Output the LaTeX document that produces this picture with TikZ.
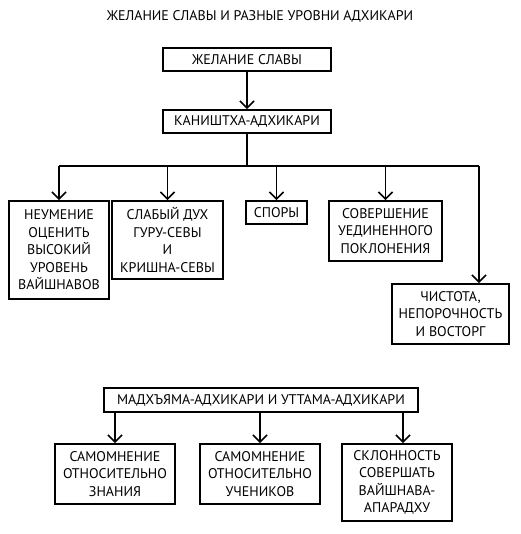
\documentclass[tikz,border=0pt]{standalone}
\usepackage{fontspec}
\setmainfont{PT Sans}
\usepackage{tikz}
\usetikzlibrary{arrows.meta}

\begin{document}
\begin{tikzpicture}[x=1pt,y=-1pt,
  box/.style={draw,line width=1.8pt,align=center,inner sep=2pt,
    font=\fontsize{14}{17.5}\selectfont},
  arr/.style={line width=1.6pt,-{Straight Barb[length=7pt,width=14pt,line width=1.6pt]}},
  link/.style={line width=1.8pt}]
\useasboundingbox (0,0) rectangle (520,534);

\node[font=\fontsize{14}{17.5}\selectfont] (title) at (260,16) {ЖЕЛАНИЕ СЛАВЫ И РАЗНЫЕ УРОВНИ АДХИКАРИ};

\node[box,minimum width=168,minimum height=23] (slava) at (247,59.5) {ЖЕЛАНИЕ СЛАВЫ};
\node[box,minimum width=168,minimum height=23] (kanishtha) at (247,121.5) {КАНИШТХА-АДХИКАРИ};
\draw[arr] (slava) -- (kanishtha);

% branches of kanishtha
\coordinate (bus) at (247,166);
\coordinate (tA) at (59,166);
\coordinate (tE) at (479,166);
\draw[link] (kanishtha) -- (bus);
\draw[link] (tA) -- (tE);

\node[box,minimum width=100,minimum height=98] (neumenie) at (59,250)
  {НЕУМЕНИЕ\\ОЦЕНИТЬ\\ВЫСОКИЙ\\УРОВЕНЬ\\ВАЙШНАВОВ};
\node[box,minimum width=111,minimum height=78] (slabyj) at (167.5,240)
  {СЛАБЫЙ ДУХ\\ГУРУ-СЕВЫ\\И\\КРИШНА-СЕВЫ};
\node[box,minimum width=61,minimum height=23] (spory) at (276.5,212.5) {СПОРЫ};
\node[box,minimum width=113,minimum height=60] (uedinenie) at (385.5,231)
  {СОВЕРШЕНИЕ\\УЕДИНЕННОГО\\ПОКЛОНЕНИЯ};
\node[box,minimum width=117,minimum height=60] (chistota) at (450.5,314)
  {ЧИСТОТА,\\НЕПОРОЧНОСТЬ\\И ВОСТОРГ};

\draw[arr] (tA) -- (neumenie);
\draw[arr] (slabyj.north |- bus) -- (slabyj);
\draw[arr] (spory.north |- bus) -- (spory);
\draw[arr] (uedinenie.north |- bus) -- (uedinenie);
\draw[arr] (tE) -- (tE |- chistota.north);

% madhyama and uttama
\node[box,minimum width=314,minimum height=24] (madhyama) at (261,400)
  {МАДХЪЯМА-АДХИКАРИ И УТТАМА-АДХИКАРИ};

\node[box,minimum width=120,minimum height=60] (znanie) at (115,474)
  {САМОМНЕНИЕ\\ОТНОСИТЕЛЬНО\\ЗНАНИЯ};
\node[box,minimum width=120,minimum height=60] (ucheniki) at (260,474)
  {САМОМНЕНИЕ\\ОТНОСИТЕЛЬНО\\УЧЕНИКОВ};
\node[box,minimum width=110,minimum height=77] (aparadha) at (397,482.5)
  {СКЛОННОСТЬ\\СОВЕРШАТЬ\\ВАЙШНАВА-\\АПАРАДХУ};

\draw[arr] (znanie.north |- madhyama.south) -- (znanie);
\draw[arr] (ucheniki.north |- madhyama.south) -- (ucheniki);
\draw[arr] ([xshift=6pt]aparadha.north |- madhyama.south) -- ([xshift=6pt]aparadha.north);

\end{tikzpicture}
\end{document}
